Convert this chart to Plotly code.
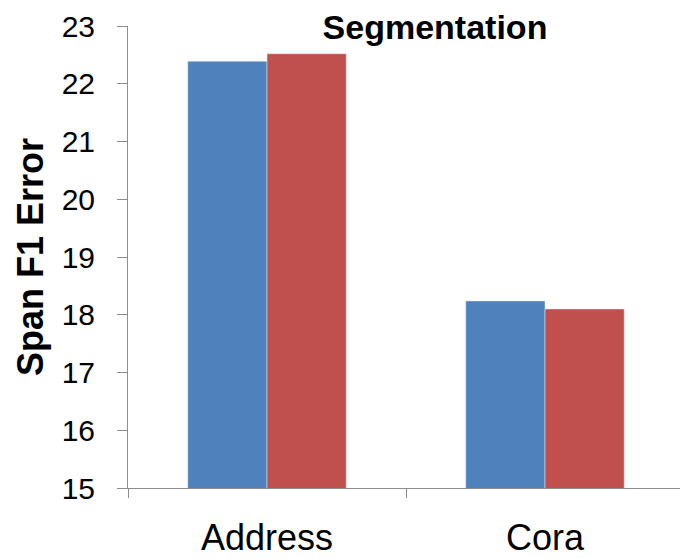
import plotly.graph_objects as go

categories = ["Address", "Cora"]
series_a = [22.39, 18.24]
series_b = [22.52, 18.10]
y_ticks = [15, 16, 17, 18, 19, 20, 21, 22, 23]

FONT = "Arial, Liberation Sans, sans-serif"
AXIS_COLOR = "#8c8c8c"

# the page body adds an 8px offset, so the figure is sized to fill the rest of the window
W, H = 680, 551

fig = go.Figure()
fig.add_trace(go.Bar(x=categories, y=series_a, marker=dict(color="#4F81BD"), showlegend=False))
fig.add_trace(go.Bar(x=categories, y=series_b, marker=dict(color="#C0504D"), showlegend=False))

fig.update_layout(
    width=W, height=H,
    margin=dict(l=120, r=4, t=18, b=71),
    paper_bgcolor="white", plot_bgcolor="white",
    barmode="group", bargap=0.43, bargroupgap=0,
    font=dict(family=FONT, color="black"),
    title=dict(text="<b>Segmentation</b>", font=dict(size=34, family=FONT, color="black"),
               x=427/W, xanchor="center", xref="container",
               y=1 - 19/H, yanchor="middle", yref="container"),
)
fig.update_yaxes(
    range=[15, 23], tickvals=y_ticks, showgrid=False, zeroline=False, automargin=False,
    showline=True, linecolor=AXIS_COLOR, linewidth=1,
    ticks="outside", ticklen=10, tickcolor=AXIS_COLOR, tickwidth=1,
    tickfont=dict(size=30, family=FONT, color="black"), ticklabelstandoff=16,
    title=dict(text="<b>Span F1 Error</b>", font=dict(size=36, family=FONT, color="black"), standoff=7),
)
fig.update_xaxes(
    showgrid=False, zeroline=False, automargin=False,
    showline=True, linecolor=AXIS_COLOR, linewidth=1,
    ticks="outside", ticklen=9, tickcolor=AXIS_COLOR, tickwidth=1, tickson="boundaries",
    tickfont=dict(size=36, family=FONT, color="black"), ticklabelstandoff=18,
)

fig.write_html("out.html")
